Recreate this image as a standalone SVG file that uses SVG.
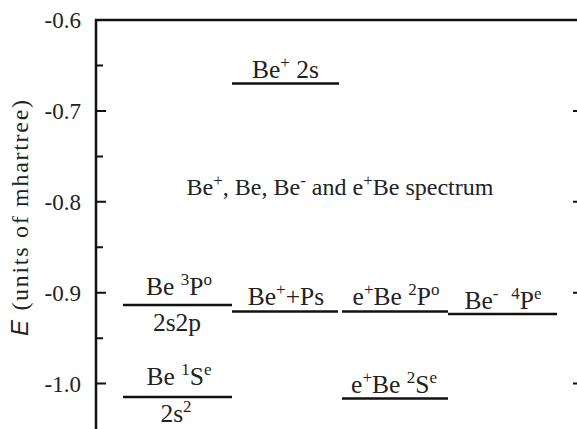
<svg xmlns="http://www.w3.org/2000/svg" width="577" height="429" viewBox="0 0 577 429" font-family="Liberation Serif, Times New Roman, serif">
<style>
.tick{font-size:23px;text-anchor:end;}
.lab{font-size:25.5px;text-anchor:middle;}
.ttl{font-size:24px;text-anchor:middle;}
.sup{font-size:17px;}
.axis{stroke:#111;stroke-width:2.5;fill:none;}
.lev{stroke:#111;stroke-width:2.4;}
</style>
<rect width="577" height="429" fill="#fff"/>
<g id="axes" fill="#222">
<path class="axis" d="M96,429 V20 H577"/>
<g stroke="#111" stroke-width="2">
<path d="M96,110.9 H106 M96,201.8 H106 M96,292.7 H106 M96,383.6 H106"/>
<path d="M96,65.5 H103 M96,156.4 H103 M96,247.3 H103 M96,338.2 H103"/>
<path d="M573,110.9 H577 M573,201.8 H577 M573,292.7 H577 M573,383.6 H577"/>
</g>
<text class="tick" x="81" y="28">-0.6</text>
<text class="tick" x="81" y="119">-0.7</text>
<text class="tick" x="81" y="210">-0.8</text>
<text class="tick" x="81" y="301">-0.9</text>
<text class="tick" x="81" y="391.5">-1.0</text>
<text transform="translate(28,336) rotate(-90)" font-size="24" textLength="236"><tspan font-family="Liberation Sans, Arial, sans-serif" font-style="italic">E</tspan> (units of mhartree)</text>
</g>
<g id="title" fill="#222">
<text class="ttl" x="340" y="195">Be<tspan class="sup" dy="-9">+</tspan><tspan dy="9">, Be, Be</tspan><tspan class="sup" dy="-9">-</tspan><tspan dy="9"> and e</tspan><tspan class="sup" dy="-9">+</tspan><tspan dy="9">Be spectrum</tspan></text>
</g>
<g id="levels">
<line class="lev" x1="232" y1="83.5" x2="339" y2="83.5"/>
<line class="lev" x1="123" y1="305" x2="232" y2="305"/>
<line class="lev" x1="232" y1="311.5" x2="338" y2="311.5"/>
<line class="lev" x1="342" y1="311.5" x2="448" y2="311.5"/>
<line class="lev" x1="448" y1="314" x2="557" y2="314"/>
<line class="lev" x1="123" y1="397" x2="232" y2="397"/>
<line class="lev" x1="342" y1="398.5" x2="448" y2="398.5"/>
</g>
<g id="be-plus-2s" fill="#222"><text class="lab" x="285.5" y="78">Be<tspan class="sup" dy="-10">+</tspan><tspan dy="10"> 2s</tspan></text></g>
<g id="be-3Po" fill="#222"><text class="lab" x="179" y="295">Be <tspan class="sup" dy="-10">3</tspan><tspan dy="10">P</tspan><tspan class="sup" dy="-10">o</tspan></text>
<text class="lab" x="177" y="331">2s2p</text></g>
<g id="be-1Se" fill="#222"><text class="lab" x="179" y="385">Be <tspan class="sup" dy="-10">1</tspan><tspan dy="10">S</tspan><tspan class="sup" dy="-10">e</tspan></text>
<text class="lab" x="176" y="422">2s<tspan class="sup" dy="-10">2</tspan></text></g>
<g id="be-plus-ps" fill="#222"><text class="lab" x="286" y="305">Be<tspan class="sup" dy="-10">+</tspan><tspan dy="10">+Ps</tspan></text></g>
<g id="ebe-2Po" fill="#222"><text class="lab" x="396" y="305">e<tspan class="sup" dy="-10">+</tspan><tspan dy="10">Be </tspan><tspan class="sup" dy="-10">2</tspan><tspan dy="10">P</tspan><tspan class="sup" dy="-10">o</tspan></text></g>
<g id="beminus-4Pe" fill="#222"><text class="lab" x="503" y="309" xml:space="preserve">Be<tspan class="sup" dy="-10">-</tspan><tspan dy="10">  </tspan><tspan class="sup" dy="-10">4</tspan><tspan dy="10">P</tspan><tspan class="sup" dy="-10">e</tspan></text></g>
<g id="ebe-2Se" fill="#222"><text class="lab" x="394" y="393">e<tspan class="sup" dy="-10">+</tspan><tspan dy="10">Be </tspan><tspan class="sup" dy="-10">2</tspan><tspan dy="10">S</tspan><tspan class="sup" dy="-10">e</tspan></text></g>
</svg>
